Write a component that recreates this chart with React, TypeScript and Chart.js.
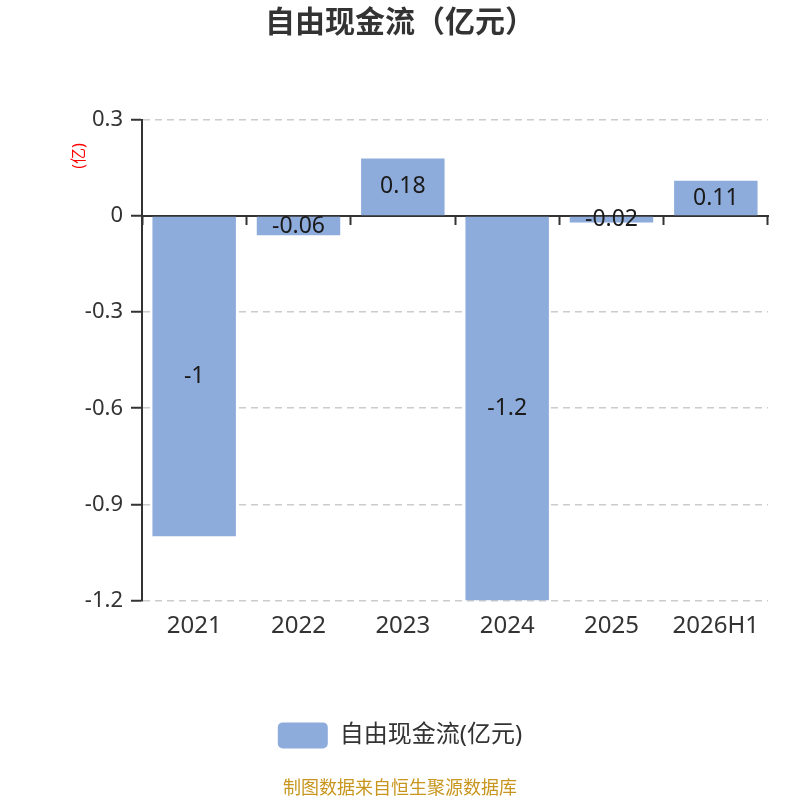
import { useEffect, useRef } from 'react'
import { Chart, ChartConfiguration, Plugin, registerables } from 'chart.js'

Chart.register(...registerables)

const FONT = "'Noto Sans', 'Noto Sans CJK SC', sans-serif"

const years = ['2021', '2022', '2023', '2024', '2025', '2026H1']
const freeCashFlow = [-1, -0.06, 0.18, -1.2, -0.02, 0.11]
const yMin = -1.2
const yMax = 0.3
const yStep = 0.3

const seriesName = '自由现金流(亿元)'
const titleText = '自由现金流（亿元）'
const unitText = '(亿)'
const sourceText = '制图数据来自恒生聚源数据库'

const barColor = '#8eacdb'
const axisColor = '#333333'

// value labels in the middle of each bar, plus the red unit label by the y axis
const annotations: Plugin<'bar'> = {
  id: 'annotations',
  afterDraw(chart) {
    const { ctx, chartArea } = chart
    ctx.save()
    ctx.font = `23px ${FONT}`
    ctx.fillStyle = '#1a1a1a'
    ctx.textAlign = 'center'
    ctx.textBaseline = 'middle'
    chart.getDatasetMeta(0).data.forEach((el, i) => {
      const { x, y, base } = el.getProps(['x', 'y', 'base'], true) as any
      ctx.fillText(String(freeCashFlow[i]), x, (y + base) / 2)
    })

    ctx.translate(chartArea.left - 63, chartArea.top + 36)
    ctx.rotate(-Math.PI / 2)
    ctx.font = `16px ${FONT}`
    ctx.fillStyle = '#ff0000'
    ctx.fillText(unitText, 0, 0)
    ctx.restore()
  },
}

export default function App() {
  const chartRef = useRef<HTMLCanvasElement>(null)
  const chartInstance = useRef<Chart | null>(null)

  useEffect(() => {
    if (!chartRef.current) return
    if (chartInstance.current) chartInstance.current.destroy()

    const config: ChartConfiguration<'bar'> = {
      type: 'bar',
      data: {
        labels: years,
        datasets: [
          {
            label: seriesName,
            data: freeCashFlow,
            backgroundColor: barColor,
            barPercentage: 0.8,
            categoryPercentage: 1,
          },
        ],
      },
      options: {
        responsive: false,
        animation: false,
        layout: { padding: 0 },
        scales: {
          x: {
            position: 'bottom',
            offset: true,
            grid: { display: false, drawTicks: false },
            border: { display: false },
            ticks: { color: axisColor, font: { size: 24, family: FONT }, padding: 11 },
            afterFit: (scale) => {
              scale.height = 102
            },
          },
          x2: {
            type: 'category',
            position: { y: 0 },
            offset: true,
            z: 1,
            grid: {
              offset: true,
              drawOnChartArea: false,
              drawTicks: true,
              tickLength: 8,
              tickColor: axisColor,
              tickWidth: 2,
            },
            border: { display: true, color: axisColor, width: 2 },
            ticks: { display: false },
          },
          y: {
            min: yMin,
            max: yMax,
            ticks: {
              stepSize: yStep,
              color: axisColor,
              padding: 8,
              font: { size: 22, family: FONT },
              callback: (v) => String(Number(Number(v).toFixed(1))),
            },
            grid: {
              color: (ctx) => (Math.abs(ctx.tick?.value ?? 1) < 1e-9 ? 'rgba(0,0,0,0)' : '#cccccc'),
              lineWidth: 1.5,
              drawTicks: true,
              tickLength: 11,
              tickColor: axisColor,
              tickWidth: 2,
            },
            border: { display: true, color: axisColor, width: 2, dash: [7, 5] },
            afterFit: (scale) => {
              scale.width = 142
            },
          },
          // empty right-hand gutter so the plot ends short of the canvas edge
          yRight: {
            position: 'right',
            grid: { display: false, drawTicks: false },
            border: { display: false },
            ticks: { display: false },
            afterFit: (scale) => {
              scale.width = 32
            },
          },
        },
        plugins: {
          title: {
            display: true,
            text: titleText,
            color: axisColor,
            font: { size: 30, weight: 'bold', family: FONT },
            padding: { top: 5, bottom: 79 },
          },
          subtitle: {
            display: true,
            position: 'bottom',
            text: sourceText,
            color: '#c8961e',
            font: { size: 18, family: FONT },
            padding: { top: 20, bottom: 0 },
          },
          legend: {
            display: true,
            position: 'bottom',
            labels: {
              color: axisColor,
              font: { size: 24, family: FONT },
              boxWidth: 50,
              boxHeight: 26,
              useBorderRadius: true,
              borderRadius: 5,
              padding: 20,
            },
          },
          tooltip: { enabled: false },
        },
      },
      plugins: [annotations],
    }

    chartInstance.current = new Chart(chartRef.current, config)

    return () => {
      if (chartInstance.current) {
        chartInstance.current.destroy()
        chartInstance.current = null
      }
    }
  }, [])

  return (
    <div style={{ position: 'absolute', left: 0, top: 0, width: 800, height: 800, background: '#fff' }}>
      <canvas ref={chartRef} width={800} height={800} style={{ width: 800, height: 800 }} />
    </div>
  )
}
